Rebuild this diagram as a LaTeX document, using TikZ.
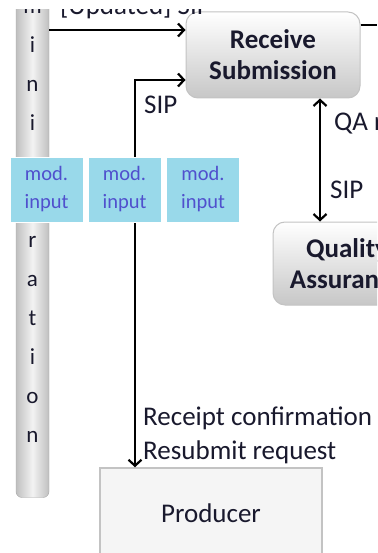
\documentclass[tikz,border=0pt]{standalone}
\usepackage{fontspec}
\setmainfont{Carlito}
\usetikzlibrary{arrows.meta}
\definecolor{txt}{RGB}{25,25,45}
\definecolor{modfill}{RGB}{153,217,234}
\definecolor{modtxt}{RGB}{80,80,205}
\definecolor{edge}{RGB}{195,195,195}
\begin{document}
\begin{tikzpicture}[x=1pt,y=-1pt,>={Straight Barb[length=6pt,width=13pt]},
  procbox/.style={draw=edge,line width=1pt,rounded corners=12pt,top color=white,bottom color=black!22,text=txt,font=\fontsize{27}{31}\selectfont\bfseries,align=center,inner sep=0pt},
  modbox/.style={fill=modfill,draw=white,minimum width=73pt,minimum height=65pt,inner sep=0pt,text=modtxt,font=\fontsize{20.5}{28}\selectfont,align=center},
  arr/.style={line width=2.2pt},
  lbl/.style={text=txt,font=\fontsize{27}{34}\selectfont,inner sep=0pt}]
\useasboundingbox (0,0) rectangle (377,553);
\clip (0,10) rectangle (377,553);
\node[draw=gray!70,left color=black!25,right color=black!25,middle color=black!5,rounded corners=6pt,minimum width=33pt,minimum height=631pt,inner sep=0pt,text=txt,align=center,font=\fontsize{23}{39}\selectfont] (admin) at (32.5,182) {A\\d\\m\\i\\n\\i\\s\\t\\r\\a\\t\\i\\o\\n};
\node[procbox,minimum width=174pt,minimum height=86pt] (recv) at (273,55) {Receive\\Submission};
\node[procbox,minimum width=148pt,minimum height=83pt] (qa) at (347,263.5) {Quality\\Assurance};
\node[draw=edge,line width=1.5pt,fill=black!4,minimum width=222pt,minimum height=90pt,text=txt,font=\fontsize{27}{31}\selectfont] (prod) at (211,513) {Producer};
\coordinate (updy) at (0,30);
\coordinate (sipx) at (135,80);
\coordinate (qax) at (320,0);
\coordinate (outy) at (377,25);
\draw[arr,->] (admin.east |- updy) -- (recv.west |- updy);
\draw[arr,<->] (prod.north -| sipx) |- (recv.west |- sipx);
\draw[arr,<->] (recv.south -| qax) -- (qa.north -| qax);
\draw[arr] (recv.east |- outy) -- (outy);
\node[lbl,anchor=base west] (upd) at (60,15) {[Updated] SIP};
\node[lbl,anchor=west] (sipa) at (144,105) {SIP};
\node[lbl,anchor=west] (qar) at (334,124) {QA report};
\node[lbl,anchor=west] (sipb) at (330,190) {SIP};
\node[lbl,anchor=west,align=left] (rcpt) at (143,435) {Receipt confirmation\\Resubmit request};
\node[modbox] (mod1) at (46.5,189.5) {mod.\\input};
\node[modbox] (mod2) at (124.5,189.5) {mod.\\input};
\node[modbox] (mod3) at (203,189.5) {mod.\\input};
\end{tikzpicture}
\end{document}
